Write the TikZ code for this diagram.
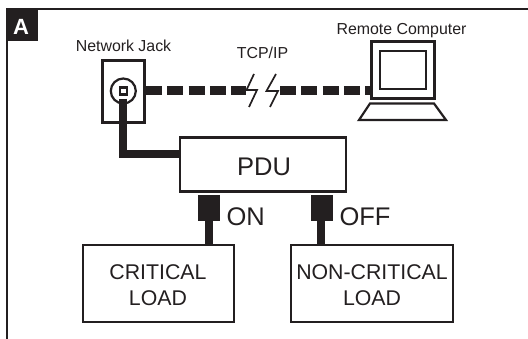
\documentclass[tikz,border=0pt]{standalone}
\usepackage{fontspec}
\setmainfont{Liberation Sans}
\definecolor{ink}{HTML}{231F20}
\tikzset{
  x=1pt,y=-1pt,
  every node/.style={text=ink,inner sep=0pt,outer sep=0pt},
  small/.style={font=\fontsize{15.9}{18}\selectfont},
  mid/.style={font=\fontsize{21.3}{26}\selectfont,align=center},
  big/.style={font=\fontsize{25.5}{28}\selectfont},
  boxed/.style={draw=ink,line width=2.3pt,fill=white},
  cable/.style={draw=ink,line width=8pt,line cap=butt,line join=miter},
  netline/.style={draw=ink,line width=8.5pt,dash pattern=on 16pt off 5.3pt},
  bolt/.style={draw=ink,line width=1.7pt,line join=miter},
  plugbody/.style={fill=ink,draw=none},
}
\begin{document}
\begin{tikzpicture}
\useasboundingbox (0,0) rectangle (528,339);
% frame
\draw[ink,line width=2.8pt] (7,339) -- (7,9) -- (528,9);
\fill[ink] (6,8) rectangle (38,41);
\node[font=\bfseries\fontsize{22}{24}\selectfont,text=white] (tag) at (21,27) {A};
% network jack
\node[boxed,minimum width=42pt,minimum height=62pt] (jack) at (123.5,91.5) {};
\node[draw=ink,line width=2.2pt,circle,minimum size=25pt] (socket) at (123.3,91) {};
\node[draw=ink,line width=2.4pt,minimum size=7pt] (port) at (123.3,91) {};
\node[small] (jacklbl) at (123.5,46) {Network Jack};
% PDU
\node[boxed,minimum width=166pt,minimum height=54pt] (pdu) at (263,164.5) {};
\node[big] (pdutext) at (264,166.5) {PDU};
\coordinate (bend) at (123.3,154.5);
\draw[cable] (123.3,99) -- (bend) -- (pdu.west |- bend);
% computer
\node[draw=ink,line width=3pt,minimum width=63pt,minimum height=57pt] (screen) at (402.5,70.5) {};
\node[draw=ink,line width=2.6pt,minimum width=46pt,minimum height=38pt] (inner) at (403,70) {};
\coordinate (b1) at (370,103.5);
\coordinate (b2) at (434,103.5);
\coordinate (b3) at (446,120);
\coordinate (b4) at (359,120);
\draw[ink,line width=2.2pt,line join=miter] (b1) -- (b2) -- (b3) -- (b4) -- cycle;
\node[small] (pclbl) at (401.5,31) {Remote Computer};
% network link
\coordinate (ja) at (146,90.5);
\coordinate (jb) at (246,90.5);
\coordinate (pa) at (280,90.5);
\coordinate (pb) at (371,90.5);
\draw[netline] (ja) -- (jb);
\draw[netline] (pa) -- (pb);
\node[small] (tcp) at (262.5,53) {TCP/IP};
\coordinate (l1) at (254,74);
\coordinate (l2) at (246.5,90);
\coordinate (l3) at (257,90);
\coordinate (l4) at (249,107);
\coordinate (r1) at (276,74);
\coordinate (r2) at (266.5,91);
\coordinate (r3) at (278,91);
\coordinate (r4) at (270,107);
\draw[bolt] (l1) -- (l2) -- (l3) -- (l4);
\draw[bolt] (r1) -- (r2) -- (r3) -- (r4);
% loads
\node[boxed,minimum width=151pt,minimum height=77pt] (crit) at (158.5,283.5) {};
\node[mid] (crittext) at (158,285) {CRITICAL\\[0.5pt]LOAD};
\node[boxed,minimum width=162pt,minimum height=77pt] (noncrit) at (372,283.5) {};
\node[mid] (noncrittext) at (372,285) {NON-CRITICAL\\[0.5pt]LOAD};
% plugs
\node[plugbody,minimum width=22pt,minimum height=26.5pt] (onplug) at (209,208) {};
\node[plugbody,minimum width=22pt,minimum height=26.5pt] (offplug) at (322,208) {};
\draw[cable] (onplug.south -| 208.5,0) -- (208.5,245);
\draw[cable] (offplug.south -| 321,0) -- (321,245);
\node[big,anchor=west] (on) at (226.5,217) {ON};
\node[big,anchor=west] (off) at (339.5,217) {OFF};
\end{tikzpicture}
\end{document}
